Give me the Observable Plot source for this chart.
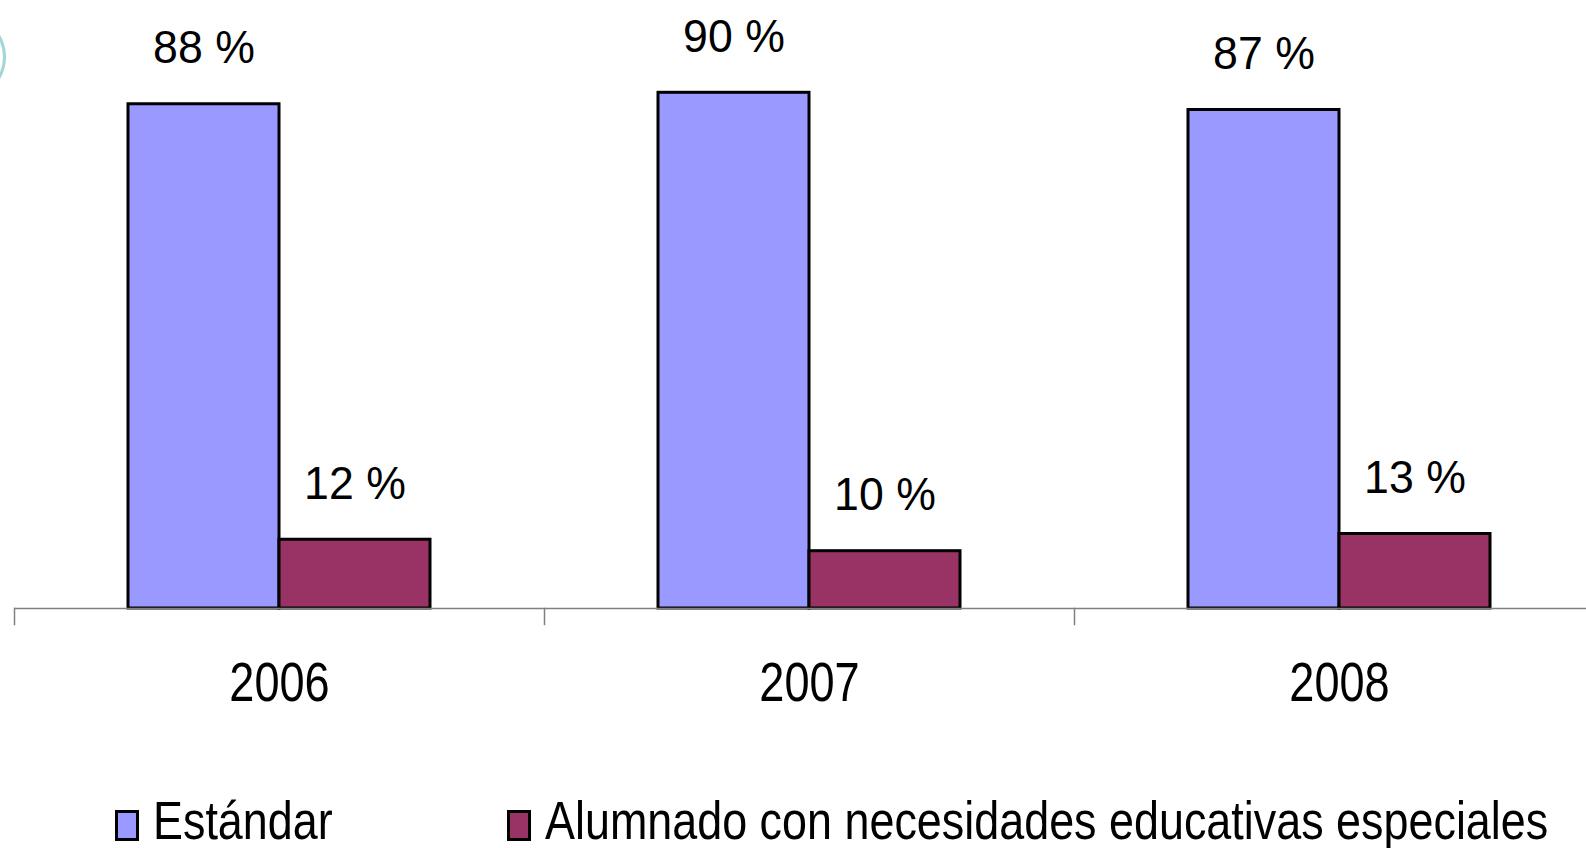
<!DOCTYPE html>
<html>
<head>
<meta charset="utf-8">
<script src="https://cdn.jsdelivr.net/npm/d3@7"></script>
<script src="https://cdn.jsdelivr.net/npm/@observablehq/plot@0.6"></script>
<style>
  html, body { margin: 0; padding: 0; background: #fff; overflow: hidden; }
  #wrap { position: relative; width: 1586px; height: 848px; overflow: hidden;
          font-family: "Liberation Sans", Arial, sans-serif; }
  #deco { position: absolute; left: -88px; top: 12px; width: 88px; height: 84px;
          border-radius: 50%; border: 3px solid #a3d6d6; }
  #chart { position: absolute; left: 0; top: 0; width: 1604px; }
  #legend { position: absolute; left: 0; top: 730px; width: 1586px; height: 118px; }
  .sw { position: absolute; top: 80px; width: 24px; height: 31px; box-sizing: border-box;
        border: 3px solid #000; }
  .lbl { position: absolute; top: 64px; font-size: 53px; line-height: 1; color: #000;
         white-space: nowrap; transform: scaleX(0.847); transform-origin: 0 0; }
</style>
</head>
<body>
<div id="wrap">
  <div id="chart"></div>
  <div id="deco"></div>
  <div id="legend"></div>
</div>
<script>
const years = ["2006", "2007", "2008"];
const series = ["Estándar", "Alumnado con necesidades educativas especiales"];
const estandar = [88, 90, 87];
const alumnado = [12, 10, 13];
const colors = ["#9999ff", "#993366"];

const rows = [];
years.forEach((y, i) => {
  rows.push({year: y, serie: series[0], value: estandar[i]});
  rows.push({year: y, serie: series[1], value: alumnado[i]});
});

const font = '"Liberation Sans", Arial, sans-serif';

const chart = Plot.plot({
  width: 1604,
  height: 730,
  marginLeft: 13,
  marginRight: 0,
  marginTop: 35,
  marginBottom: 122,
  style: {fontFamily: font, background: "transparent", color: "#000", maxWidth: "none"},
  fx: {domain: years, padding: 0, label: null, axis: null},
  x: {domain: series, paddingInner: 0, paddingOuter: 0.745, axis: null},
  y: {domain: [0, 100], axis: null},
  color: {domain: series, range: colors},
  marks: [
    Plot.barY(rows, {fx: "year", x: "serie", y: "value", fill: "serie",
                     stroke: "#000", strokeWidth: 3}),
    Plot.text(rows, {fx: "year", x: "serie", y: "value", text: d => d.value + " %",
                     dy: -56, fontSize: 47, fill: "#000"}),
    Plot.ruleY([0], {stroke: "#808080", strokeWidth: 1.5}),
    Plot.frame({anchor: "left", stroke: "#808080", strokeWidth: 1.5, insetTop: 573, insetBottom: -16}),
    Plot.axisFx({anchor: "bottom", tickSize: 0, tickPadding: 53, fontSize: 55, label: null})
  ]
});
// condense glyphs horizontally (narrow face of the original)
chart.querySelectorAll("text").forEach(t => {
  const s = /%/.test(t.textContent) ? 0.95 : 0.82;
  const tr = t.getAttribute("transform");
  if (tr) {
    t.setAttribute("transform", tr + ` scale(${s},1)`);
  } else {
    const x = +(t.getAttribute("x") || 0), y = +(t.getAttribute("y") || 0);
    t.removeAttribute("x"); t.removeAttribute("y");
    t.setAttribute("transform", `translate(${x},${y}) scale(${s},1)`);
  }
});
document.getElementById("chart").appendChild(chart);

const legend = document.getElementById("legend");
const swLeft = [115, 507];
const txtLeft = [153, 545];
series.forEach((s, i) => {
  const sw = document.createElement("div");
  sw.className = "sw";
  sw.style.left = swLeft[i] + "px";
  sw.style.background = colors[i];
  const lbl = document.createElement("span");
  lbl.className = "lbl";
  lbl.style.left = txtLeft[i] + "px";
  lbl.textContent = s;
  legend.appendChild(sw);
  legend.appendChild(lbl);
});
</script>
</body>
</html>
